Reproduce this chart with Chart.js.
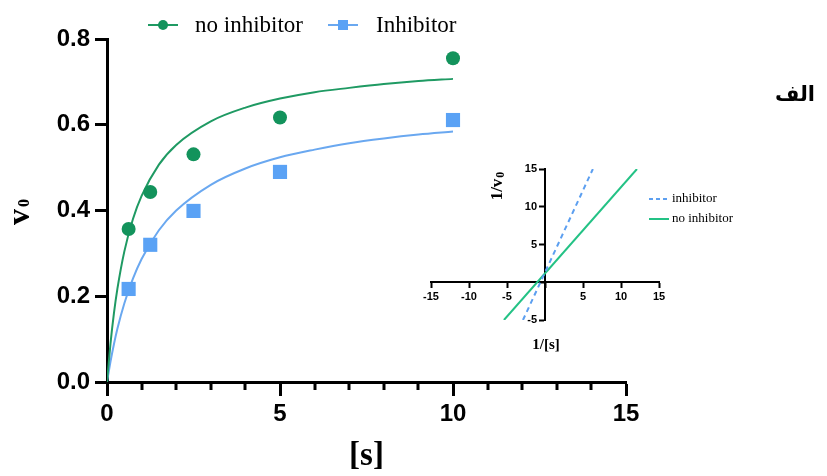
<!DOCTYPE html>
<html><head><meta charset="utf-8">
<script src="https://cdn.jsdelivr.net/npm/chart.js@4.4.1/dist/chart.umd.min.js"></script>
<style>
html,body{margin:0;padding:0;background:#fff;}
#wrap{position:relative;width:827px;height:476px;overflow:hidden;background:#fff;}
#main{position:absolute;left:0;top:0;}
#inset{position:absolute;left:420px;top:150px;}
#alef{position:absolute;left:770px;top:82px;width:50px;text-align:center;font:bold 21px 'DejaVu Sans';direction:rtl;color:#000;}
</style></head>
<body><div id="wrap"><canvas id="main" width="827" height="476"></canvas><canvas id="inset" width="330" height="210"></canvas><div id="alef">الف</div></div>
<script>
// ---- main Michaelis-Menten data ----
const substrate = [0.625, 1.25, 2.5, 5, 10];
const v0NoInhibitor = [0.357, 0.443, 0.531, 0.617, 0.755];
const v0Inhibitor = [0.217, 0.320, 0.399, 0.490, 0.611];
// fitted curves
const fitX = [0, 0.1, 0.2, 0.3, 0.5, 0.75, 1, 1.5, 2, 3, 4, 5, 6, 7, 8, 9, 10];
const fitNoInhibitor = [0, 0.089, 0.160, 0.217, 0.304, 0.380, 0.434, 0.507, 0.553, 0.608, 0.640, 0.661, 0.676, 0.686, 0.695, 0.702, 0.707];
const fitInhibitor = [0, 0.047, 0.088, 0.124, 0.183, 0.241, 0.287, 0.354, 0.400, 0.460, 0.498, 0.524, 0.542, 0.557, 0.568, 0.577, 0.584];
const mainLegend = ['no inhibitor', 'Inhibitor'];
const minorTicksX = [1, 2, 3, 4, 6, 7, 8, 9, 11, 12, 13, 14];

// ---- inset Lineweaver-Burk lines ----
const lbInhibitorX = [-2.9, 6.3];
const lbInhibitorY = [-5, 15];
const lbNoInhibitorX = [-5.4, 12.1];
const lbNoInhibitorY = [-5, 15];
const insetLegend = ['inhibitor', 'no inhibitor'];
const insetYTickLabels = [-5, 5, 10, 15];

const GREEN = '#13935c', GREEN_LINE = '#1f9a63', BLUE = '#5aa2f5', BLUE_LINE = '#6aa8f0';
const IGREEN = '#23c285', IBLUE = '#5c9ff0';

const pts = (xs, ys) => xs.map((x, i) => ({x: x, y: ys[i]}));

const mainDecor = {
  id: 'mainDecor',
  afterDraw(chart) {
    const ctx = chart.ctx, xs = chart.scales.x, y0 = chart.chartArea.bottom;
    ctx.save();
    ctx.strokeStyle = '#000'; ctx.lineWidth = 3;
    minorTicksX.forEach(v => {
      const px = Math.round(xs.getPixelForValue(v));
      ctx.beginPath(); ctx.moveTo(px, y0); ctx.lineTo(px, y0 + 8); ctx.stroke();
    });
    ctx.fillStyle = '#000';
    ctx.translate(29, 225); ctx.rotate(-Math.PI / 2);
    ctx.textBaseline = 'alphabetic'; ctx.textAlign = 'left';
    ctx.font = 'bold 32px "Liberation Serif"';
    ctx.fillText('v', 0, 0);
    const w = ctx.measureText('v').width;
    ctx.font = 'bold 16px "Liberation Serif"';
    ctx.fillText('0', w + 2, 0);
    ctx.restore();
    ctx.save();
    ctx.lineWidth = 2;
    ctx.strokeStyle = GREEN_LINE;
    ctx.beginPath(); ctx.moveTo(148, 25); ctx.lineTo(178, 25); ctx.stroke();
    ctx.fillStyle = GREEN; ctx.beginPath(); ctx.arc(163, 25, 5, 0, Math.PI * 2); ctx.fill();
    ctx.strokeStyle = BLUE_LINE;
    ctx.beginPath(); ctx.moveTo(328, 25); ctx.lineTo(358, 25); ctx.stroke();
    ctx.fillStyle = BLUE; ctx.fillRect(338, 20, 10, 10);
    ctx.fillStyle = '#000'; ctx.textBaseline = 'alphabetic'; ctx.textAlign = 'left';
    ctx.font = '23px "Liberation Serif"';
    ctx.fillText(mainLegend[0], 195, 32);
    ctx.fillText(mainLegend[1], 376, 32);
    ctx.restore();
  }
};

new Chart(document.getElementById('main'), {
  type: 'scatter',
  data: {
    datasets: [
      {label: 'fit no inhibitor', data: pts(fitX, fitNoInhibitor), showLine: true, borderColor: GREEN_LINE, borderWidth: 2, pointRadius: 0, cubicInterpolationMode: 'monotone', order: 3},
      {label: 'fit inhibitor', data: pts(fitX, fitInhibitor), showLine: true, borderColor: BLUE_LINE, borderWidth: 2, pointRadius: 0, cubicInterpolationMode: 'monotone', order: 4},
      {label: mainLegend[0], data: pts(substrate, v0NoInhibitor), pointStyle: 'circle', pointRadius: 7, backgroundColor: GREEN, borderColor: GREEN, borderWidth: 0, order: 1},
      {label: mainLegend[1], data: pts(substrate, v0Inhibitor), pointStyle: 'rect', pointRadius: 10, backgroundColor: BLUE, borderColor: BLUE, borderWidth: 0, order: 2}
    ]
  },
  options: {
    responsive: false, animation: false, devicePixelRatio: 1,
    layout: {padding: {left: 0, right: 201, top: 39, bottom: 0}},
    plugins: {legend: {display: false}, tooltip: {enabled: false}},
    scales: {
      x: {
        type: 'linear', min: 0, max: 15,
        ticks: {stepSize: 5, color: '#000', font: {family: 'Liberation Sans', size: 24, weight: 'bold'}, padding: 4, maxRotation: 0},
        grid: {drawOnChartArea: false, tickLength: 14, tickWidth: 3, tickColor: '#000'},
        border: {color: '#000', width: 3},
        title: {display: true, text: '[s]', color: '#000', font: {family: 'Liberation Serif', size: 33, weight: 'bold'}, padding: {top: 0, bottom: 0}},
        afterFit(s) { s.height = 94; }
      },
      y: {
        type: 'linear', min: 0, max: 0.8,
        ticks: {stepSize: 0.2, color: '#000', font: {family: 'Liberation Sans', size: 24, weight: 'bold'}, padding: 5, callback: v => v.toFixed(1)},
        grid: {drawOnChartArea: false, tickLength: 12, tickWidth: 3, tickColor: '#000'},
        border: {color: '#000', width: 3},
        afterFit(s) { s.width = 107; }
      }
    }
  },
  plugins: [mainDecor]
});

const insetDecor = {
  id: 'insetDecor',
  afterDraw(chart) {
    const ctx = chart.ctx, xs = chart.scales.x, ys = chart.scales.y;
    ctx.save();
    // y tick labels, left of the centred axis
    ctx.fillStyle = '#000'; ctx.font = 'bold 11px "Liberation Sans"';
    ctx.textAlign = 'right'; ctx.textBaseline = 'middle';
    const ax = xs.getPixelForValue(0);
    insetYTickLabels.forEach(v => ctx.fillText(String(v), ax - 8, ys.getPixelForValue(v)));
    // legend
    ctx.lineWidth = 2;
    ctx.strokeStyle = IBLUE; ctx.setLineDash([4, 3]);
    ctx.beginPath(); ctx.moveTo(229, 49); ctx.lineTo(249, 49); ctx.stroke();
    ctx.setLineDash([]);
    ctx.strokeStyle = IGREEN;
    ctx.beginPath(); ctx.moveTo(229, 69); ctx.lineTo(249, 69); ctx.stroke();
    ctx.font = '13px "Liberation Serif"';
    ctx.textAlign = 'left';
    ctx.fillText(insetLegend[0], 252, 49);
    ctx.fillText(insetLegend[1], 252, 69);
    // x title
    ctx.font = 'bold 15px "Liberation Serif"'; ctx.textAlign = 'center';
    ctx.fillText('1/[s]', 126, 195);
    // y title
    ctx.textAlign = 'left'; ctx.textBaseline = 'alphabetic';
    ctx.font = 'bold 17px "Liberation Serif"';
    const w1 = ctx.measureText('1/v').width;
    ctx.font = 'bold 12px "Liberation Serif"';
    const w2 = ctx.measureText('0').width;
    const total = w1 + 1 + w2;
    ctx.translate(82, 36 + total / 2); ctx.rotate(-Math.PI / 2);
    ctx.font = 'bold 17px "Liberation Serif"';
    ctx.fillText('1/v', 0, 0);
    ctx.font = 'bold 12px "Liberation Serif"';
    ctx.fillText('0', w1 + 1, 2);
    ctx.restore();
  }
};

const zeroless = v => (v === 0 ? '' : v);
new Chart(document.getElementById('inset'), {
  type: 'scatter',
  data: {
    datasets: [
      {label: insetLegend[0], data: pts(lbInhibitorX, lbInhibitorY), showLine: true, borderColor: IBLUE, borderWidth: 2, borderDash: [5, 4], pointRadius: 0},
      {label: insetLegend[1], data: pts(lbNoInhibitorX, lbNoInhibitorY), showLine: true, borderColor: IGREEN, borderWidth: 2, pointRadius: 0}
    ]
  },
  options: {
    responsive: false, animation: false, devicePixelRatio: 1,
    layout: {padding: {left: 11, right: 91, top: 19, bottom: 40}},
    plugins: {legend: {display: false}, tooltip: {enabled: false}},
    scales: {
      x: {
        type: 'linear', min: -15, max: 15, position: {y: 0},
        ticks: {stepSize: 5, color: '#000', font: {family: 'Liberation Sans', size: 11, weight: 'bold'}, padding: 3, maxRotation: 0, callback: zeroless},
        grid: {drawOnChartArea: false, tickLength: 5, tickWidth: 2, tickColor: '#000'},
        border: {color: '#000', width: 2}
      },
      y: {
        type: 'linear', min: -5, max: 15, position: {x: 0},
        ticks: {stepSize: 5, display: false},
        grid: {drawOnChartArea: false, tickLength: 5, tickWidth: 2, tickColor: '#000'},
        border: {color: '#000', width: 2}
      }
    }
  },
  plugins: [insetDecor]
});
</script>
</body></html>
